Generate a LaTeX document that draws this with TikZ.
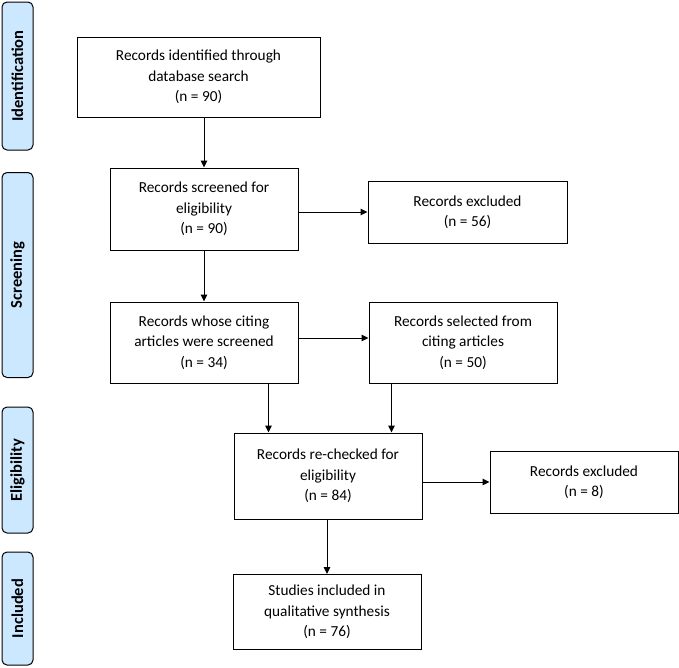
\documentclass[tikz,border=0pt]{standalone}
\usepackage{fontspec}
\setmainfont{Carlito}
\usetikzlibrary{calc,arrows.meta}
\definecolor{phase}{RGB}{204,232,255}

\begin{document}
\begin{tikzpicture}[x=1pt,y=-1pt,
  box/.style={draw,line width=1pt,align=center,inner sep=0pt,
    font=\fontsize{15.3}{20.5}\selectfont},
  phasebox/.style={draw,fill=phase,rounded corners=5pt,line width=1pt,
    inner sep=0pt,rotate=90,font=\bfseries\fontsize{16.5}{18}\selectfont},
  arr/.style={-{Triangle[length=7pt,width=6.5pt]},line width=1pt}]
\useasboundingbox (0,0) rectangle (679,667);

% phases on the left
\node[phasebox,minimum width=148pt,minimum height=31pt] (ident) at (17.5,76) {Identification};
\node[phasebox,minimum width=205pt,minimum height=31pt] (screen) at (17.5,275) {Screening};
\node[phasebox,minimum width=126pt,minimum height=31pt] (elig) at (17.5,470) {Eligibility};
\node[phasebox,minimum width=113pt,minimum height=31pt] (incl) at (17.5,608.5) {Included};

% boxes
\node[box,minimum width=243pt,minimum height=80pt] (found) at (198.5,77)
  {Records identified through\\database search\\(n = 90)};
\node[box,minimum width=188pt,minimum height=82pt] (screened) at (204,209)
  {Records screened for\\eligibility\\(n = 90)};
\node[box,minimum width=199pt,minimum height=62pt] (excl1) at (467.5,212)
  {Records excluded\\(n = 56)};
\node[box,minimum width=188pt,minimum height=81pt] (citing) at (204,342.5)
  {Records whose citing\\articles were screened\\(n = 34)};
\node[box,minimum width=188pt,minimum height=81pt] (selected) at (463,342.5)
  {Records selected from\\citing articles\\(n = 50)};
\node[box,minimum width=188pt,minimum height=86pt] (recheck) at (328,476)
  {Records re-checked for\\eligibility\\(n = 84)};
\node[box,minimum width=188pt,minimum height=62pt] (excl2) at (584,482)
  {Records excluded\\(n = 8)};
\node[box,minimum width=188pt,minimum height=75pt] (included) at (327,612)
  {Studies included in\\qualitative synthesis\\(n = 76)};

% arrows
\draw[arr] (found.south -| screened.north) -- (screened.north);
\draw[arr] (screened.east |- excl1.west) -- (excl1.west);
\draw[arr] (screened) -- (citing);
\draw[arr] (citing.east |- 0,338) -- (selected.west |- 0,338);
\coordinate (l) at ($(citing.south east)+(-30pt,0)$);
\coordinate (r) at ($(selected.south west)+(23pt,0)$);
\draw[arr] (l) -- (l |- recheck.north);
\draw[arr] (r) -- (r |- recheck.north);
\draw[arr] (recheck.east |- excl2.west) -- (excl2.west);
\draw[arr] (recheck.south -| included.north) -- (included.north);

\end{tikzpicture}
\end{document}
